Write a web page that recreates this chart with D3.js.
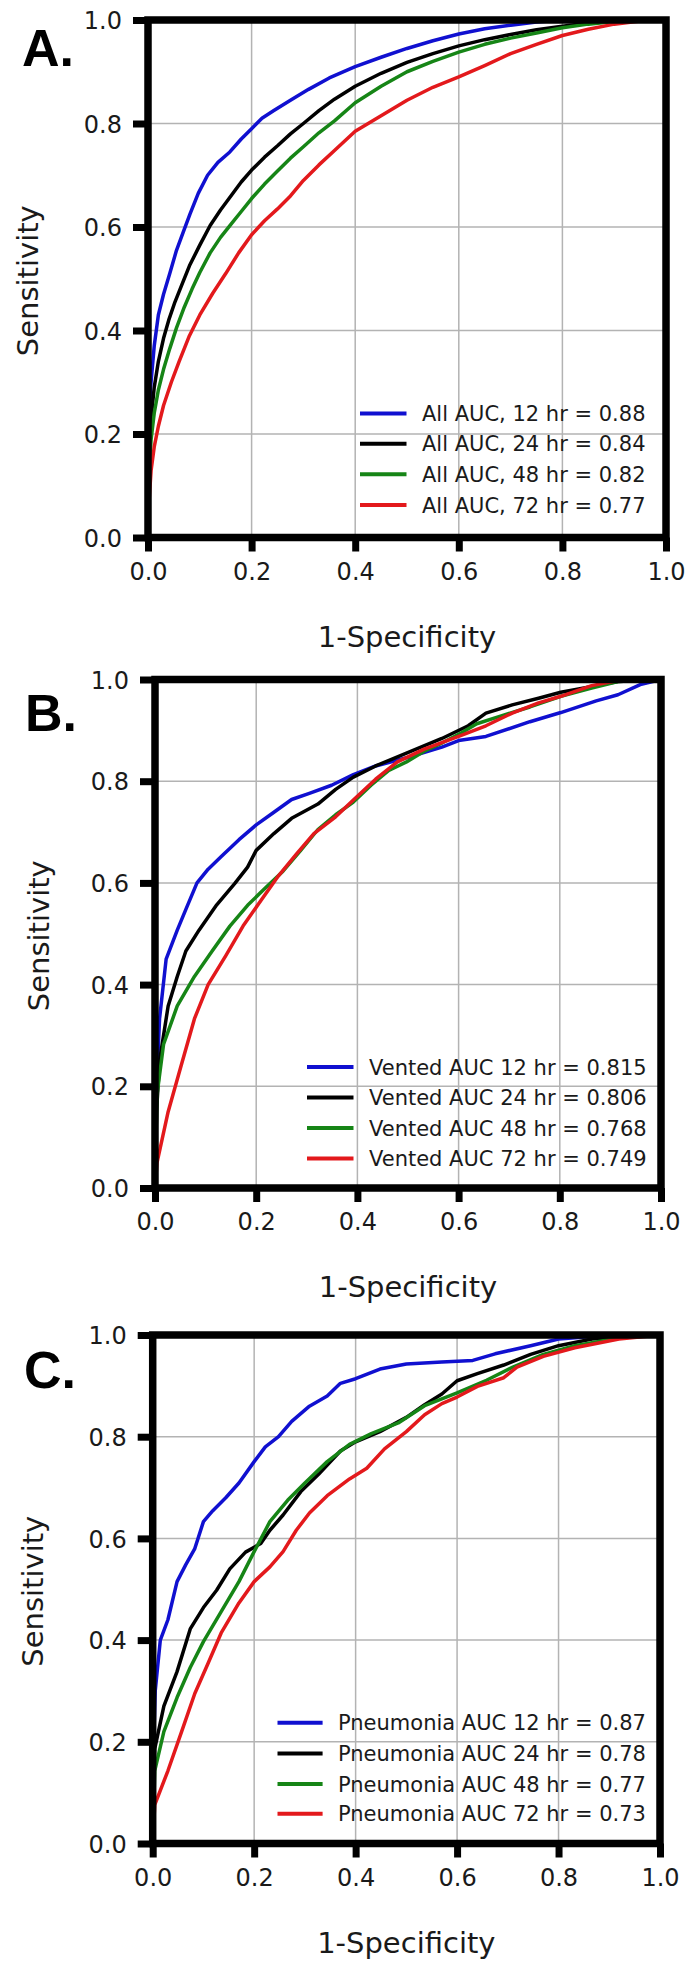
<!DOCTYPE html>
<html>
<head>
<meta charset="utf-8">
<script src="https://cdn.jsdelivr.net/npm/d3@7"></script>
<style>
  html, body { margin: 0; padding: 0; background: #fff; }
  svg { display: block; }
</style>
</head>
<body>
<div id="chart"></div>
<script>
// ---------------- DATA ----------------
const tickValues = [0.0, 0.2, 0.4, 0.6, 0.8, 1.0];
const tickLabels = ["0.0", "0.2", "0.4", "0.6", "0.8", "1.0"];
const xAxisTitle = "1-Specificity";
const yAxisTitle = "Sensitivity";
const panelLetters = ["A.", "B.", "C."];
const horizons = ["12 hr", "24 hr", "48 hr", "72 hr"];

const legendA = ["All AUC, 12 hr = 0.88", "All AUC, 24 hr = 0.84", "All AUC, 48 hr = 0.82", "All AUC, 72 hr = 0.77"];
const legendB = ["Vented AUC 12 hr = 0.815", "Vented AUC 24 hr = 0.806", "Vented AUC 48 hr = 0.768", "Vented AUC 72 hr = 0.749"];
const legendC = ["Pneumonia AUC 12 hr = 0.87", "Pneumonia AUC 24 hr = 0.78", "Pneumonia AUC 48 hr = 0.77", "Pneumonia AUC 72 hr = 0.73"];

// Panel A: All patients  [1-specificity, sensitivity]
const rocA12 = [[0,0],[0.002,0.2],[0.005,0.29],[0.012,0.37],[0.02,0.43],[0.03,0.47],[0.042,0.51],[0.055,0.555],[0.068,0.59],[0.081,0.625],[0.097,0.665],[0.115,0.70],[0.135,0.725],[0.158,0.745],[0.18,0.77],[0.2,0.79],[0.22,0.81],[0.243,0.825],[0.275,0.845],[0.31,0.866],[0.35,0.888],[0.4,0.91],[0.45,0.928],[0.5,0.945],[0.55,0.96],[0.6,0.973],[0.65,0.983],[0.7,0.99],[0.75,0.996],[0.8,1.0],[1,1]];
const rocA24 = [[0,0],[0.002,0.15],[0.006,0.23],[0.012,0.29],[0.02,0.34],[0.03,0.385],[0.04,0.42],[0.052,0.455],[0.066,0.49],[0.08,0.525],[0.1,0.565],[0.12,0.603],[0.14,0.633],[0.16,0.66],[0.18,0.687],[0.2,0.71],[0.225,0.735],[0.25,0.757],[0.275,0.78],[0.3,0.80],[0.33,0.825],[0.36,0.847],[0.4,0.872],[0.45,0.897],[0.5,0.918],[0.55,0.935],[0.6,0.95],[0.65,0.962],[0.7,0.972],[0.75,0.981],[0.8,0.988],[0.85,0.994],[0.9,0.998],[1,1]];
const rocA48 = [[0,0],[0.002,0.12],[0.006,0.19],[0.012,0.24],[0.02,0.285],[0.03,0.325],[0.042,0.365],[0.055,0.405],[0.07,0.445],[0.085,0.48],[0.1,0.512],[0.12,0.55],[0.14,0.58],[0.16,0.605],[0.18,0.63],[0.2,0.655],[0.225,0.683],[0.25,0.708],[0.275,0.733],[0.3,0.755],[0.33,0.782],[0.36,0.805],[0.4,0.84],[0.45,0.872],[0.5,0.9],[0.55,0.92],[0.6,0.938],[0.65,0.953],[0.7,0.965],[0.75,0.975],[0.8,0.985],[0.85,0.992],[0.9,0.997],[1,1]];
const rocA72 = [[0,0],[0.002,0.07],[0.006,0.13],[0.012,0.175],[0.02,0.215],[0.03,0.255],[0.045,0.3],[0.06,0.34],[0.08,0.39],[0.1,0.43],[0.125,0.472],[0.15,0.51],[0.175,0.55],[0.2,0.585],[0.225,0.612],[0.25,0.635],[0.275,0.66],[0.3,0.69],[0.33,0.72],[0.36,0.748],[0.4,0.785],[0.45,0.815],[0.5,0.845],[0.55,0.87],[0.6,0.89],[0.65,0.912],[0.7,0.935],[0.75,0.953],[0.8,0.97],[0.85,0.982],[0.9,0.992],[0.95,0.998],[1,1]];

// Panel B: Vented patients
const rocB12 = [[0,0],[0.003,0.2],[0.009,0.333],[0.022,0.45],[0.044,0.507],[0.061,0.548],[0.083,0.60],[0.105,0.627],[0.131,0.652],[0.166,0.685],[0.2,0.714],[0.235,0.739],[0.27,0.764],[0.305,0.776],[0.349,0.792],[0.392,0.813],[0.436,0.83],[0.497,0.846],[0.567,0.867],[0.6,0.88],[0.654,0.888],[0.741,0.917],[0.802,0.935],[0.872,0.958],[0.915,0.97],[0.959,0.99],[1,1]];
const rocB24 = [[0,0],[0.003,0.15],[0.009,0.25],[0.026,0.358],[0.044,0.416],[0.061,0.466],[0.087,0.507],[0.122,0.557],[0.157,0.598],[0.183,0.631],[0.2,0.664],[0.235,0.697],[0.27,0.727],[0.322,0.755],[0.357,0.784],[0.392,0.808],[0.436,0.83],[0.497,0.855],[0.567,0.884],[0.619,0.909],[0.654,0.934],[0.706,0.95],[0.758,0.963],[0.802,0.975],[0.872,0.988],[0.915,0.996],[1,1]];
const rocB48 = [[0,0],[0.004,0.184],[0.017,0.283],[0.044,0.358],[0.078,0.416],[0.113,0.466],[0.148,0.515],[0.183,0.556],[0.218,0.59],[0.253,0.623],[0.288,0.664],[0.322,0.705],[0.357,0.734],[0.392,0.759],[0.427,0.792],[0.462,0.821],[0.497,0.838],[0.532,0.859],[0.567,0.875],[0.6,0.892],[0.636,0.913],[0.689,0.93],[0.741,0.946],[0.802,0.967],[0.863,0.983],[0.915,0.996],[1,1]];
const rocB72 = [[0,0],[0.004,0.05],[0.026,0.15],[0.052,0.242],[0.078,0.333],[0.105,0.40],[0.14,0.457],[0.174,0.515],[0.209,0.565],[0.244,0.614],[0.279,0.656],[0.314,0.697],[0.357,0.73],[0.392,0.763],[0.436,0.804],[0.479,0.838],[0.532,0.863],[0.6,0.888],[0.654,0.909],[0.706,0.934],[0.758,0.954],[0.802,0.967],[0.863,0.988],[0.915,0.998],[1,1]];

// Panel C: Pneumonia patients
const rocC12 = [[0,0],[0.002,0.2],[0.005,0.3],[0.015,0.4],[0.03,0.44],[0.048,0.515],[0.065,0.548],[0.083,0.58],[0.1,0.633],[0.118,0.654],[0.144,0.68],[0.17,0.709],[0.2,0.751],[0.222,0.78],[0.248,0.80],[0.274,0.83],[0.309,0.86],[0.344,0.88],[0.37,0.905],[0.4,0.914],[0.448,0.933],[0.5,0.943],[0.57,0.947],[0.631,0.95],[0.675,0.963],[0.745,0.979],[0.8,0.992],[0.866,0.997],[1,1]];
const rocC24 = [[0,0],[0.004,0.186],[0.022,0.27],[0.048,0.338],[0.074,0.422],[0.1,0.464],[0.126,0.498],[0.152,0.54],[0.183,0.573],[0.213,0.59],[0.231,0.616],[0.257,0.646],[0.292,0.692],[0.327,0.726],[0.37,0.772],[0.4,0.79],[0.448,0.81],[0.5,0.838],[0.536,0.863],[0.57,0.884],[0.6,0.91],[0.64,0.924],[0.692,0.941],[0.745,0.962],[0.8,0.979],[0.866,0.992],[0.936,0.997],[1,1]];
const rocC48 = [[0,0],[0.004,0.143],[0.022,0.22],[0.048,0.287],[0.074,0.346],[0.1,0.397],[0.135,0.456],[0.17,0.515],[0.2,0.574],[0.231,0.633],[0.266,0.675],[0.3,0.709],[0.344,0.751],[0.388,0.785],[0.431,0.806],[0.484,0.827],[0.536,0.861],[0.6,0.886],[0.658,0.911],[0.71,0.937],[0.77,0.962],[0.832,0.979],[0.919,0.994],[1,1]];
const rocC72 = [[0,0],[0.004,0.076],[0.03,0.143],[0.057,0.22],[0.083,0.295],[0.109,0.354],[0.135,0.414],[0.17,0.473],[0.2,0.515],[0.231,0.544],[0.257,0.574],[0.283,0.616],[0.309,0.65],[0.344,0.684],[0.388,0.717],[0.422,0.738],[0.457,0.776],[0.5,0.81],[0.536,0.843],[0.57,0.865],[0.6,0.878],[0.64,0.899],[0.692,0.916],[0.718,0.937],[0.77,0.958],[0.832,0.975],[0.919,0.992],[1,1]];

const seriesColors = ["#1010d0", "#000000", "#168516", "#e3191c"];

// ---------------- LAYOUT ----------------
const W = 693, H = 1973;
const panels = [
  { letter: panelLetters[0], legend: legendA, series: [rocA12, rocA24, rocA48, rocA72],
    left: 148, right: 666, top: 20, bottom: 537.5,
    letterX: 22, letterY: 66, ylabX: 38, legLine: [360, 406.5], legText: 422, legRows: [413.5, 443.7, 474.3, 505] },
  { letter: panelLetters[1], legend: legendB, series: [rocB12, rocB24, rocB48, rocB72],
    left: 155, right: 661, top: 679.5, bottom: 1188,
    letterX: 25, letterY: 730.5, ylabX: 49, legLine: [307, 353.5], legText: 369, legRows: [1067, 1097.5, 1128, 1158.5] },
  { letter: panelLetters[2], legend: legendC, series: [rocC12, rocC24, rocC48, rocC72],
    left: 152.7, right: 660, top: 1335, bottom: 1843.5,
    letterX: 24, letterY: 1388, ylabX: 42.5, legLine: [277.5, 322.6], legText: 338, legRows: [1722.7, 1753.6, 1784, 1813.7] }
];

const svg = d3.select("#chart").append("svg")
  .attr("width", W).attr("height", H)
  .attr("viewBox", `0 0 ${W} ${H}`);

const tickFont = "'DejaVu Sans', sans-serif";

panels.forEach((p) => {
  const x = d3.scaleLinear().domain([0, 1]).range([p.left, p.right]);
  const y = d3.scaleLinear().domain([0, 1]).range([p.bottom, p.top]);
  const g = svg.append("g");

  // grid
  g.append("g").selectAll("line.vg").data(tickValues.slice(1, -1)).join("line")
    .attr("x1", d => x(d)).attr("x2", d => x(d))
    .attr("y1", p.top).attr("y2", p.bottom)
    .attr("stroke", "#b3b3b3").attr("stroke-width", 1.5);
  g.append("g").selectAll("line.hg").data(tickValues.slice(1, -1)).join("line")
    .attr("y1", d => y(d)).attr("y2", d => y(d))
    .attr("x1", p.left).attr("x2", p.right)
    .attr("stroke", "#b3b3b3").attr("stroke-width", 1.5);

  // curves
  const line = d3.line().x(d => x(d[0])).y(d => y(d[1])).curve(d3.curveLinear);
  p.series.forEach((s, i) => {
    g.append("path").datum(s)
      .attr("d", line)
      .attr("fill", "none")
      .attr("stroke", seriesColors[i])
      .attr("stroke-width", 3.5)
      .attr("stroke-linejoin", "round")
      .attr("stroke-linecap", "round");
  });

  // axes with d3 axis generators
  const xAxis = d3.axisBottom(x).tickValues(tickValues)
    .tickFormat((d, i) => tickLabels[i]).tickSize(14).tickSizeOuter(0).tickPadding(11);
  const yAxis = d3.axisLeft(y).tickValues(tickValues)
    .tickFormat((d, i) => tickLabels[i]).tickSize(15).tickSizeOuter(0).tickPadding(11);

  const gx = g.append("g").attr("transform", `translate(0,${p.bottom})`).call(xAxis);
  const gy = g.append("g").attr("transform", `translate(${p.left},0)`).call(yAxis);
  [gx, gy].forEach(a => {
    a.select(".domain").remove();
    a.selectAll(".tick line").attr("stroke", "#000").attr("stroke-width", 7);
    a.selectAll(".tick text").attr("fill", "#1a1a1a")
      .style("font-family", tickFont).style("font-size", "24px");
  });
  gx.selectAll(".tick text").attr("dy", "0.71em").attr("y", 25);
  gy.selectAll(".tick text").attr("dy", "0.36em").attr("x", -26);

  // frame (spines)
  g.append("rect")
    .attr("x", p.left).attr("y", p.top)
    .attr("width", p.right - p.left).attr("height", p.bottom - p.top)
    .attr("fill", "none").attr("stroke", "#000").attr("stroke-width", 7.5);

  // axis titles
  g.append("text")
    .attr("x", (p.left + p.right) / 2).attr("y", p.bottom + 109)
    .attr("text-anchor", "middle")
    .style("font-family", tickFont).style("font-size", "29px").attr("fill", "#1a1a1a")
    .text(xAxisTitle);
  g.append("text")
    .attr("transform", `translate(${p.ylabX},${(p.top + p.bottom) / 2 + 2}) rotate(-90)`)
    .attr("text-anchor", "middle")
    .style("font-family", tickFont).style("font-size", "29px").attr("fill", "#1a1a1a")
    .text(yAxisTitle);

  // panel letter
  g.append("text")
    .attr("x", p.letterX).attr("y", p.letterY)
    .style("font-family", "'Liberation Sans', Arial, sans-serif")
    .style("font-weight", "bold").style("font-size", "52px").attr("fill", "#000")
    .text(p.letter);

  // legend
  const lg = g.append("g");
  p.legend.forEach((label, i) => {
    lg.append("line")
      .attr("x1", p.legLine[0]).attr("x2", p.legLine[1])
      .attr("y1", p.legRows[i]).attr("y2", p.legRows[i])
      .attr("stroke", seriesColors[i]).attr("stroke-width", 4);
    lg.append("text")
      .attr("x", p.legText).attr("y", p.legRows[i]).attr("dy", "0.36em")
      .style("font-family", tickFont).style("font-size", "21px").attr("fill", "#1a1a1a")
      .text(label);
  });
});
</script>
</body>
</html>
